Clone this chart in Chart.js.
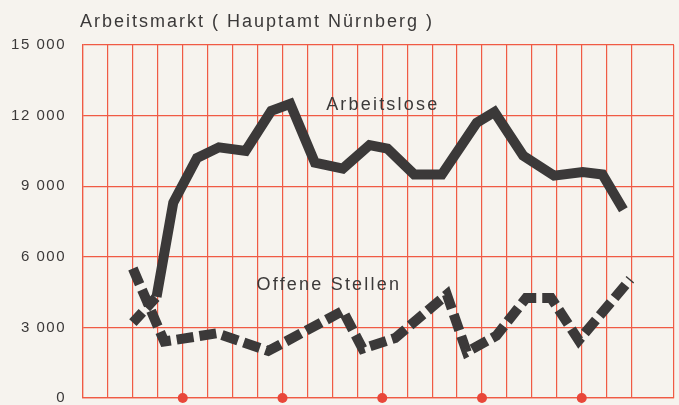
<!DOCTYPE html>
<html>
<head>
<meta charset="utf-8">
<script src="https://cdn.jsdelivr.net/npm/chart.js@4/dist/chart.umd.min.js"></script>
<style>
  html, body { margin: 0; padding: 0; background: #f6f3ee; }
</style>
</head>
<body>
<canvas id="arbeitsmarkt" width="679" height="405"></canvas>
<script>
// x = Position in Quartalen (eine Rasterlinie je Quartal), y = Personen
var arbeitsloseX = [2.0, 2.95, 3.62, 4.57, 5.45, 6.52, 7.55, 8.31, 9.30, 10.42, 11.49, 12.21, 13.28, 14.39, 15.79, 16.50, 17.65, 18.89, 20.04, 20.83, 21.67];
var arbeitslose  = [3200, 4300, 8300, 10200, 10650, 10500, 12200, 12500, 10000, 9750, 10750, 10600, 9500, 9500, 11700, 12150, 10300, 9450, 9600, 9500, 8000];

var stellenX = [2.0, 3.26, 5.37, 7.43, 10.42, 11.21, 12.52, 14.59, 15.39, 16.58, 17.77, 18.77, 19.88, 21.95];
var stellen  = [5500, 2400, 2750, 2000, 3700, 2100, 2550, 4400, 1950, 2650, 4250, 4250, 2450, 5050];

var jahresMarken = [4, 8, 12, 16, 20];
var yTicks = [0, 3000, 6000, 9000, 12000, 15000];

var rot = '#f05a44';
var schwarz = '#3b3939';
var papier = '#f6f3ee';
var schrift = '"Liberation Sans", Arial, sans-serif';

function punkte(xs, ys) {
  return xs.map(function (x, i) { return { x: x, y: ys[i] }; });
}

var beschriftung = {
  id: 'beschriftung',
  beforeDraw: function (chart) {
    var c = chart.ctx;
    c.save();
    c.fillStyle = papier;
    c.fillRect(0, 0, chart.width, chart.height);
    c.restore();
    c.letterSpacing = '1.5px';
  },
  afterDatasetsDraw: function (chart) {
    var c = chart.ctx, x = chart.scales.x, y = chart.scales.y;
    c.save();
    c.fillStyle = schwarz;
    c.textAlign = 'left';
    c.textBaseline = 'alphabetic';
    c.font = '18px ' + schrift;
    c.letterSpacing = '2px';
    c.fillText('Arbeitsmarkt ( Hauptamt Nürnberg )', 80, 27);
    c.letterSpacing = '2.2px';
    c.fillText('Arbeitslose', x.getPixelForValue(9.75), y.getPixelForValue(12240));
    c.fillText('Offene Stellen', x.getPixelForValue(6.96), y.getPixelForValue(4590));
    c.restore();
  }
};

new Chart(document.getElementById('arbeitsmarkt').getContext('2d'), {
  type: 'line',
  data: {
    datasets: [{
        label: 'Arbeitslose',
        data: punkte(arbeitsloseX, arbeitslose),
        borderColor: schwarz,
        borderWidth: 10,
        borderJoinStyle: 'miter',
        pointRadius: 0,
        tension: 0,
        fill: false,
        segment: {
          borderDash: function (ctx) { return ctx.p0DataIndex === 0 ? [14, 6] : undefined; }
        }
      }, {
        label: 'Offene Stellen',
        data: punkte(stellenX, stellen),
        borderColor: schwarz,
        borderWidth: 10,
        borderDash: [17, 6],
        borderJoinStyle: 'miter',
        pointRadius: 0,
        tension: 0,
        fill: false
      }, {
        type: 'scatter',
        label: 'Jahre',
        data: jahresMarken.map(function (m) { return { x: m, y: 0 }; }),
        pointRadius: 5,
        pointBackgroundColor: '#e8473a',
        pointBorderWidth: 0,
        clip: false
      }
    ]
  },
  options: {
    responsive: false,
    animation: false,
    layout: { padding: { top: 45, bottom: 7, left: 0, right: 0 } },
    plugins: {
      legend: { display: false },
      tooltip: { enabled: false }
    },
    scales: {
      x: {
        type: 'linear',
        min: 0,
        max: 23.7,
        ticks: { display: false, stepSize: 1 },
        grid: { color: rot, lineWidth: 1.2, drawTicks: false },
        border: { color: rot, width: 1.2 },
        afterFit: function (s) { s.height = 0; s.paddingLeft = 0; s.paddingRight = 0; }
      },
      y: {
        min: 0,
        max: 15000,
        afterBuildTicks: function (s) { s.ticks = yTicks.map(function (v) { return { value: v }; }); },
        ticks: {
          padding: 17,
          color: schwarz,
          font: { family: schrift, size: 15 },
          callback: function (v) { return v === 0 ? '0' : (v / 1000) + ' 000'; }
        },
        grid: { color: rot, lineWidth: 1.2, drawTicks: false },
        border: { color: rot, width: 1.2 },
        afterFit: function (s) { s.width = 83; s.paddingTop = 0; s.paddingBottom = 0; }
      }
    }
  },
  plugins: [beschriftung]
});
</script>
</body>
</html>
